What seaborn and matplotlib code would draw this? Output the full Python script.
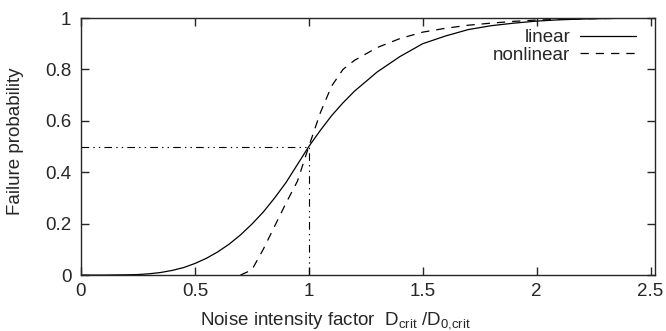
import numpy as np
import pandas as pd
import matplotlib
matplotlib.use("Agg")
import matplotlib.pyplot as plt
import seaborn as sns

# failure probability vs noise intensity factor
x_linear = [0.0, 0.1, 0.2, 0.25, 0.3, 0.35, 0.4, 0.45, 0.5, 0.55, 0.6, 0.65,
            0.7, 0.75, 0.8, 0.85, 0.9, 0.95, 1.0, 1.05, 1.1, 1.15, 1.2, 1.3,
            1.4, 1.5, 1.6, 1.7, 1.8, 1.9, 2.0, 2.1, 2.2, 2.3, 2.4, 2.5]
y_linear = [0.0, 0.0, 0.001, 0.002, 0.005, 0.01, 0.018, 0.029, 0.045, 0.065,
            0.09, 0.12, 0.156, 0.198, 0.245, 0.3, 0.36, 0.43, 0.5, 0.562,
            0.62, 0.67, 0.715, 0.79, 0.85, 0.9, 0.93, 0.955, 0.97, 0.98,
            0.988, 0.993, 0.996, 0.998, 0.999, 1.0]

x_nonlinear = [0.7, 0.75, 0.8, 0.85, 0.9, 0.95, 1.0, 1.05, 1.1, 1.15, 1.2, 1.3,
               1.4, 1.5, 1.6, 1.7, 1.8, 1.9, 2.0, 2.2, 2.5]
y_nonlinear = [0.0, 0.02, 0.10, 0.19, 0.28, 0.365, 0.5, 0.63, 0.735, 0.80,
               0.835, 0.885, 0.92, 0.945, 0.96, 0.972, 0.98, 0.987, 0.992,
               0.997, 1.0]

x_ticks = [0, 0.5, 1, 1.5, 2, 2.5]
x_ticklabels = ["0", "0.5", "1", "1.5", "2", "2.5"]
y_ticks = [0, 0.2, 0.4, 0.6, 0.8, 1]
y_ticklabels = ["0", "0.2", "0.4", "0.6", "0.8", "1"]

crit_x = 1.0
crit_y = 0.5

sns.set_style("ticks")
plt.rcParams["font.family"] = ["Liberation Sans", "DejaVu Sans"]
plt.rcParams["mathtext.fontset"] = "custom"
plt.rcParams["mathtext.rm"] = "Liberation Sans"
plt.rcParams["mathtext.it"] = "Liberation Sans"
plt.rcParams["lines.scale_dashes"] = False

fs = 13.5
fig = plt.figure(figsize=(6.66, 3.31), dpi=100)
ax = fig.add_axes([0.1216, 0.169, 0.862, 0.7766])

df_lin = pd.DataFrame({"x": x_linear, "y": y_linear})
df_non = pd.DataFrame({"x": x_nonlinear, "y": y_nonlinear})

sns.lineplot(data=df_lin, x="x", y="y", ax=ax, color="black", lw=0.9,
             label="linear")
sns.lineplot(data=df_non, x="x", y="y", ax=ax, color="black", lw=0.9,
             label="nonlinear")
ax.lines[1].set_dashes((6, 5))

# reference lines at the critical point
ddd = (0, (5.5, 3, 1, 3, 1, 3))
ax.plot([0, crit_x], [crit_y, crit_y], color="black", lw=0.8, ls=ddd)
ax.plot([crit_x, crit_x], [0, crit_y], color="black", lw=0.8, ls=ddd)

ax.set_xlim(0, 2.52)
ax.set_ylim(0, 1)
ax.set_xticks(x_ticks)
ax.set_xticklabels(x_ticklabels)
ax.set_yticks(y_ticks)
ax.set_yticklabels(y_ticklabels)
ax.tick_params(direction="in", length=6, width=1, labelsize=fs,
               top=True, right=True)
ax.tick_params(axis="x", pad=6)
ax.tick_params(axis="y", pad=7)
for s in ax.spines.values():
    s.set_linewidth(1.0)

ax.set_xlabel(r"Noise intensity factor  D$_{\mathrm{crit}}$ /D$_{\mathrm{0{,}crit}}$",
              fontsize=fs)
ax.xaxis.set_label_coords(0.4425, -0.135)
ax.set_ylabel("Failure probability", fontsize=fs)
ax.yaxis.set_label_coords(-0.099, 0.521)

leg = ax.legend(loc="upper right", frameon=False, markerfirst=False,
                fontsize=fs, handlelength=3.0, handletextpad=0.5,
                labelspacing=0.0, borderaxespad=0.0,
                bbox_to_anchor=(0.98, 0.985))
for t in leg.get_texts():
    t.set_ha("right")

fig.savefig("out.png", dpi=100)
